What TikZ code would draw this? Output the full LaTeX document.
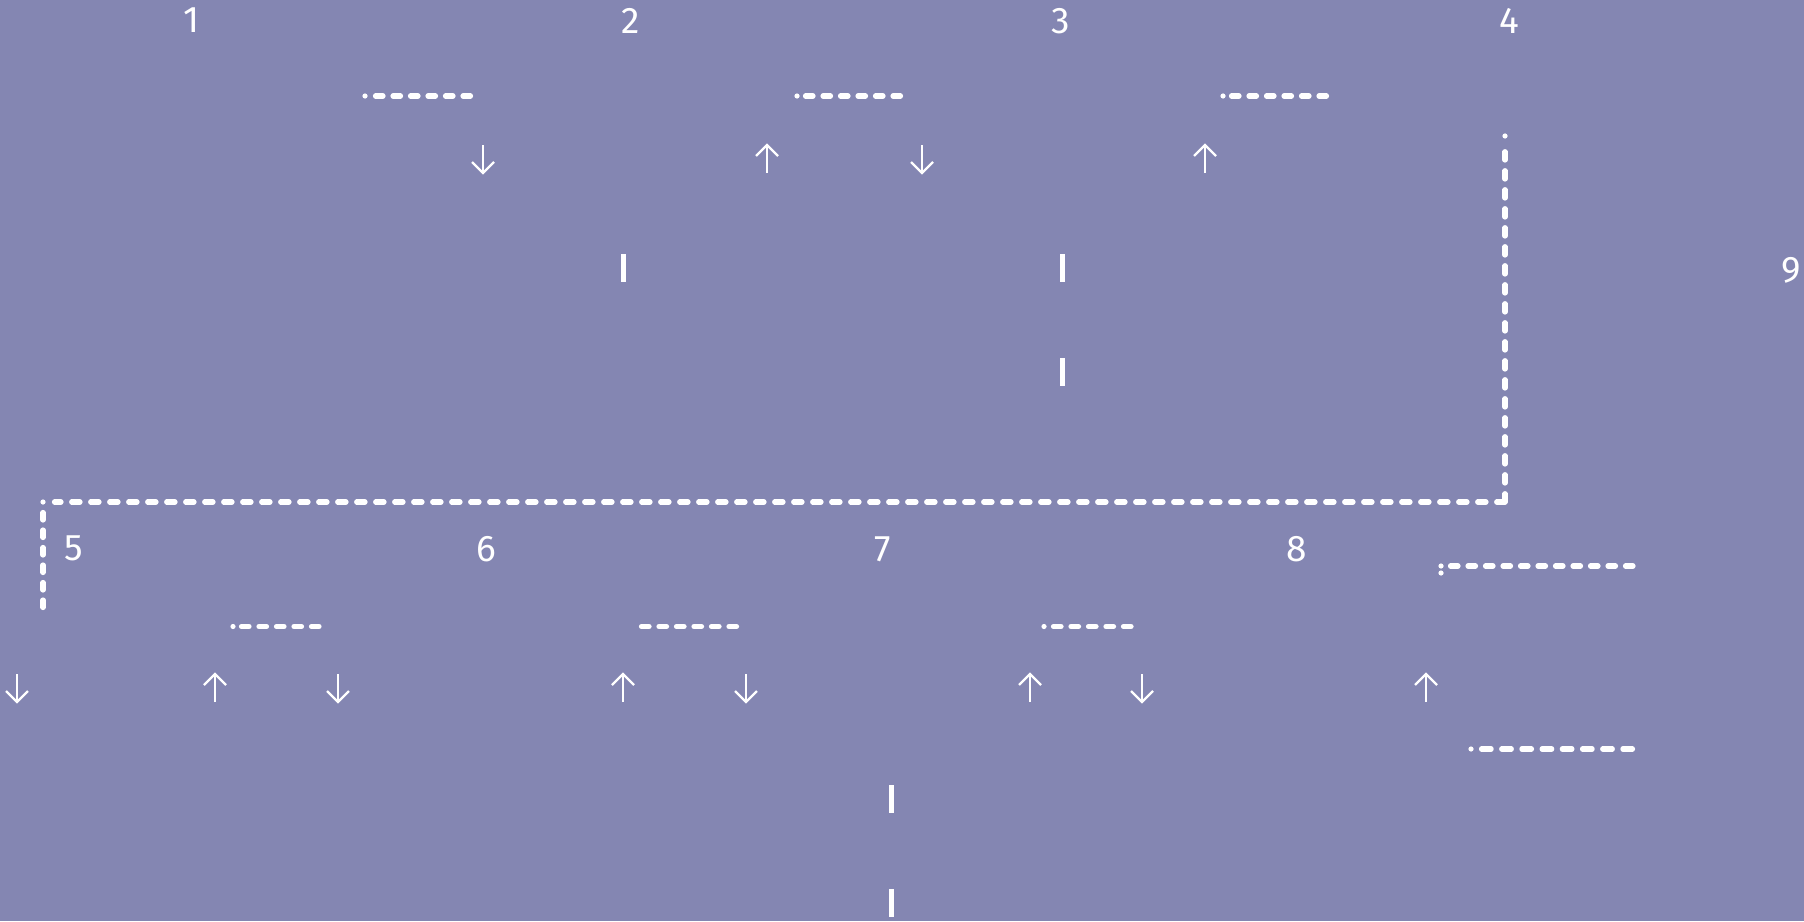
\documentclass[tikz,border=0pt]{standalone}
\usepackage{fontspec}
\setmainfont{Fira Sans}
\definecolor{bg}{RGB}{132,134,178}
\begin{document}
\begin{tikzpicture}[x=1pt,y=-1pt,
  lbl/.style={text=white,font=\fontsize{37}{40}\selectfont,inner sep=0pt,anchor=center},
  dsh/.style={white,line width=5.2pt,line cap=round,dash pattern=on 7.5pt off 10pt},
  dshlong/.style={white,line width=5.2pt,line cap=round,dash pattern=on 9.6pt off 10.6pt},
  bigdsh/.style={white,line width=5.2pt,line cap=round,dash pattern=on 8.3pt off 10.7pt},
  bar/.style={white,line width=5pt},
  arr/.style={white,line width=2.4pt},
  dotr/.style={white},
  upar/.pic={\draw[arr] (0,14) -- (0,-14); \draw[arr] (-11,-3) -- (0,-14) -- (11,-3);},
  downar/.pic={\draw[arr] (0,-14) -- (0,14); \draw[arr] (-11,3) -- (0,14) -- (11,3);}]
\fill[bg] (0,0) rectangle (1804,921);
\useasboundingbox (0,0) rectangle (1804,921);
% labels
\node[lbl] (n1) at (192,20) {1};
\node[lbl] (n2) at (631,21) {2};
\node[lbl] (n3) at (1061,21) {3};
\node[lbl] (n4) at (1509,21) {4};
\node[lbl] (n9) at (1791,270) {9};
\node[lbl] (n5) at (74,548) {5};
\node[lbl] (n6) at (486,549) {6};
\node[lbl] (n7) at (883,549) {7};
\node[lbl] (n8) at (1297,549) {8};
% top dashed segments
\fill[dotr] (365,96) circle (2.6);
\draw[dsh] (375.5,96) -- (470.5,96);
\fill[dotr] (797,96) circle (2.6);
\draw[dsh] (805.5,96) -- (900.5,96);
\fill[dotr] (1223,96) circle (2.6);
\draw[dsh] (1231.5,96) -- (1326.5,96);
% top arrows
\pic at (483,159) {downar};
\pic at (767,159) {upar};
\pic at (922,159) {downar};
\pic at (1205,159) {upar};
% bars
\draw[bar] (623,254) -- (623,282);
\draw[bar] (1062,254) -- (1062,282);
\draw[bar] (1062,358) -- (1062,386);
\draw[bar] (891,785) -- (891,813);
\draw[bar] (891,889) -- (891,917);
% big dashed route
\coordinate (c1) at (1505,502);
\coordinate (ctop) at (1505,143);
\coordinate (c2) at (54.5,502);
\coordinate (c3) at (43,512.5);
\coordinate (c4) at (43,607.5);
\fill[dotr] (1505,136) circle (2.6);
\draw[bigdsh] (c1) -- (ctop);
\draw[bigdsh] (c1) -- (c2);
\fill[dotr] (43,502) circle (2.6);
\draw[dsh] (c3) -- (c4);
% bottom dashed segments
\fill[dotr] (233,626.5) circle (2.6);
\draw[dsh] (241.5,626.5) -- (320.5,626.5);
\draw[dsh] (641.5,626.5) -- (738.5,626.5);
\fill[dotr] (1044,626.5) circle (2.6);
\draw[dsh] (1053.5,626.5) -- (1132.5,626.5);
\fill[dotr] (1441,566) circle (2.6);
\fill[dotr] (1441,573) circle (2.6);
\draw[dsh] (1450.5,566) -- (1635.5,566);
\fill[dotr] (1471,749) circle (2.6);
\draw[dshlong] (1481.5,749) -- (1632.5,749);
% bottom arrows
\pic at (17,688) {downar};
\pic at (215,688) {upar};
\pic at (338,688) {downar};
\pic at (623,688) {upar};
\pic at (746,688) {downar};
\pic at (1030,688) {upar};
\pic at (1142,688) {downar};
\pic at (1426,688) {upar};
\end{tikzpicture}
\end{document}
